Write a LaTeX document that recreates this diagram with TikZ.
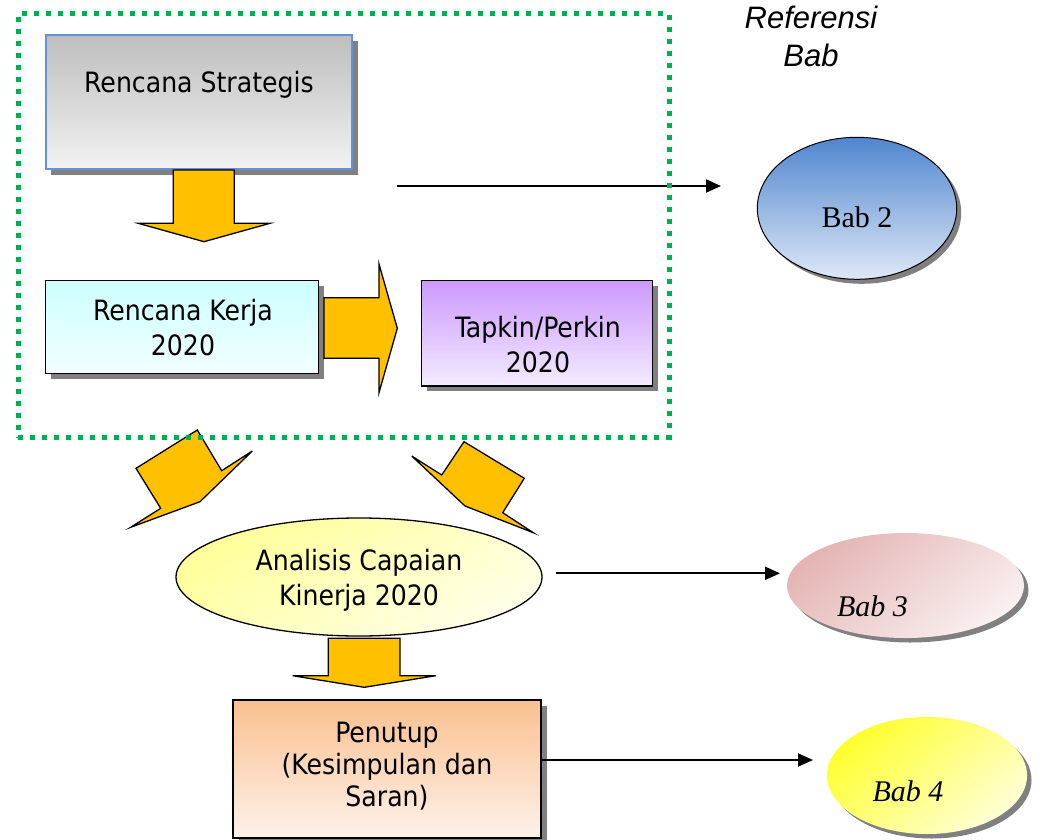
\documentclass[tikz,border=0pt]{standalone}
\usepackage{fontspec}
\newfontfamily\tah{DejaVu Sans Condensed}
\newfontfamily\helv{Liberation Sans}
\newfontfamily\tnr{Liberation Serif}
\usetikzlibrary{shapes.geometric,shadows,arrows.meta}
\definecolor{orA}{HTML}{FFC000}
\definecolor{grD}{HTML}{00B050}
\definecolor{rsBorder}{RGB}{100,145,215}
\definecolor{rsT}{HTML}{BEBEBE}
\definecolor{rsB}{HTML}{F2F2F2}
\definecolor{rkT}{HTML}{CCFFFF}
\definecolor{rkB}{HTML}{F2FFFF}
\definecolor{tpT}{HTML}{CC99FF}
\definecolor{tpB}{HTML}{F3ECFF}
\definecolor{b2T}{HTML}{4F86CF}
\definecolor{b2B}{HTML}{DFE8F6}
\definecolor{anT}{HTML}{FFFF99}
\definecolor{anB}{HTML}{FFFFE8}
\definecolor{b3T}{HTML}{E4B5B4}
\definecolor{b3B}{HTML}{F9F0F0}
\definecolor{b4T}{HTML}{FFFF2E}
\definecolor{b4B}{HTML}{FFFFD6}
\definecolor{pnT}{HTML}{FAC08F}
\definecolor{pnB}{HTML}{FDF2EA}
\begin{document}
\begin{tikzpicture}[x=1pt,y=-1pt,
  box/.style={rectangle,draw=black,line width=1.3pt,inner sep=0pt},
  shad/.style={drop shadow={shadow xshift=5.5pt,shadow yshift=-5.5pt,fill=black!50,opacity=1}},
  eshad/.style={drop shadow={shadow xshift=4.5pt,shadow yshift=-4.5pt,fill=black!50,opacity=1}},
  oval/.style={ellipse,inner sep=0pt},
  lbl/.style={font=\tah\fontsize{28}{35}\selectfont,align=center,inner sep=0pt},
  bab/.style={font=\tnr\fontsize{30}{36}\selectfont,inner sep=0pt},
  blk/.style={fill=orA,draw=black,line width=1.3pt,line join=miter},
  con/.style={draw=black,line width=2pt,-{Triangle[length=15pt,width=13pt]}},
]
\useasboundingbox (0,0) rectangle (1041,840);

% Rencana Strategis
\node[box,draw=rsBorder,line width=1.8pt,shad,top color=rsT,bottom color=rsB,
      minimum width=306.6pt,minimum height=134.3pt] (rs) at (199,102.2) {};
\node[lbl,anchor=base] (rst) at (199,93) {Rencana Strategis};

% down arrow 1
\draw[blk] (173.3,170) -- (234.3,170) -- (234.3,223.3) -- (270,223.3) -- (204,241.7)
  -- (138.3,223.3) -- (173.3,223.3) -- cycle;

% Rencana Kerja
\node[box,shad,top color=rkT,bottom color=rkB,minimum width=273pt,minimum height=93pt] (rk) at (182,327.3) {};
\node[lbl] (rkt) at (183,327.3) {Rencana Kerja\\2020};

% right arrow
\draw[blk] (324,297.7) -- (379,297.7) -- (379,264) -- (397.3,328.3) -- (379,392.7)
  -- (379,358.3) -- (324,358.3) -- cycle;

% Tapkin
\node[box,shad,top color=tpT,bottom color=tpB,minimum width=231pt,minimum height=105.3pt] (tp) at (537.3,333.3) {};
\node[lbl] (tpt) at (538,345) {Tapkin/Perkin\\2020};

% Referensi Bab
\node[font=\helv\itshape\fontsize{31}{38}\selectfont,align=center,inner sep=0pt] (ref) at (811,36) {Referensi\\Bab};

% Bab 2
\node[oval,draw=black,line width=1pt,eshad,top color=b2T,bottom color=b2B,
      minimum width=199.4pt,minimum height=142pt] (bab2) at (857,208.3) {};
\node[bab,anchor=base] (bab2t) at (857,227.3) {Bab 2};
\coordinate (a2s) at (397,186);
\coordinate (a2e) at (721,186);
\draw[con] (a2s) -- (a2e);

% diagonal arrows
\draw[blk] (197.3,430) -- (221.7,470.7) -- (252.3,451) -- (200,501.7) -- (130.7,527.3)
  -- (160.7,508.3) -- (136,468.3) -- cycle;
\draw[blk] (464,441.7) -- (524.3,478.3) -- (502.7,512.7) -- (533.3,532.7) -- (465,506)
  -- (411.7,456) -- (441.7,475) -- cycle;

% Analisis
\node[oval,draw=black,line width=1.3pt,top color=anT,bottom color=anB,shading angle=30,
      minimum width=366pt,minimum height=118pt] (ana) at (359,577) {};
\node[lbl] (anat) at (359,580) {Analisis Capaian\\Kinerja 2020};

% Bab 3
\node[oval,eshad,top color=b3T,bottom color=b3B,shading angle=40,
      minimum width=237pt,minimum height=105pt] (bab3) at (905.5,585.5) {};
\node[bab,font=\tnr\itshape\fontsize{30}{36}\selectfont,anchor=base] (bab3t) at (872.5,616.7) {Bab 3};
\coordinate (a3s) at (556,573.3);
\coordinate (a3e) at (780,573.3);
\draw[con] (a3s) -- (a3e);

% down arrow 2
\draw[blk] (328.3,638.3) -- (400,638.3) -- (400,675.7) -- (435.7,675.7) -- (364.3,687.3)
  -- (292.7,675.7) -- (328.3,675.7) -- cycle;

% Penutup
\node[box,shad,top color=pnT,bottom color=pnB,minimum width=308pt,minimum height=138pt] (pn) at (387,769) {};
\node[lbl,font=\tah\fontsize{28}{32}\selectfont] (pnt) at (387,766.4) {Penutup\\(Kesimpulan dan\\Saran)};

% Bab 4
\node[oval,eshad,top color=b4T,bottom color=b4B,shading angle=40,
      minimum width=200pt,minimum height=117pt] (bab4) at (927,775.5) {};
\node[bab,font=\tnr\itshape\fontsize{30}{36}\selectfont,anchor=base] (bab4t) at (908,801) {Bab 4};
\coordinate (a4s) at (541,760);
\coordinate (a4e) at (813,760);
\draw[con] (a4s) -- (a4e);

% green dotted frame
\node[rectangle,draw=grD,line width=5pt,dash pattern=on 5pt off 7pt,inner sep=0pt,
      minimum width=651pt,minimum height=423.3pt] (frame) at (343.5,225.65) {};
\end{tikzpicture}
\end{document}
